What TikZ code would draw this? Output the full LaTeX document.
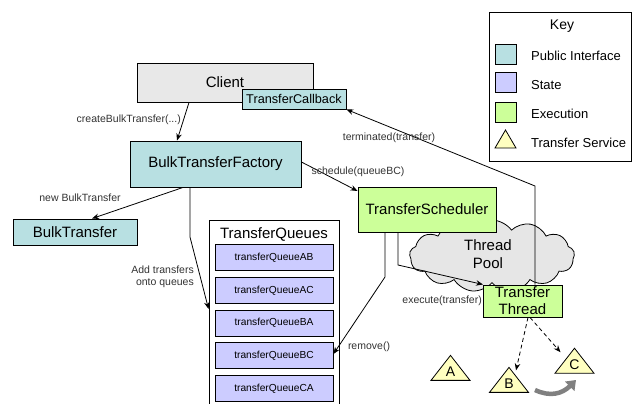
\documentclass[tikz,border=0pt]{standalone}
\usepackage{fontspec}
\setmainfont{Liberation Sans}
\usetikzlibrary{shapes.symbols,shapes.geometric,arrows.meta,calc}
\definecolor{pubc}{RGB}{184,224,226}
\definecolor{statec}{RGB}{204,204,255}
\definecolor{execc}{RGB}{204,255,153}
\definecolor{clientc}{RGB}{232,232,232}
\definecolor{cloudc}{RGB}{230,230,230}
\definecolor{tric}{RGB}{255,255,192}
\definecolor{lblc}{RGB}{50,50,50}
\definecolor{garrc}{RGB}{128,128,128}
\tikzset{
  box/.style={draw=black, line width=0.9pt, inner sep=0pt, align=center},
  bigtxt/.style={font=\fontsize{15}{17}\selectfont},
  smalltxt/.style={font=\fontsize{10.5}{12}\selectfont, text=lblc, inner sep=0pt, align=right},
  keytxt/.style={font=\fontsize{13}{15}\selectfont, anchor=west, inner sep=0pt},
  arr/.style={draw=black, line width=0.8pt, -{Stealth[length=7pt,width=5.5pt]}},
  darr/.style={arr, dashed, dash pattern=on 4pt off 3pt},
  qitem/.style={box, fill=statec, minimum width=118pt, minimum height=26pt, font=\fontsize{10.2}{12}\selectfont},
  tri/.style={draw=black, line width=0.8pt, fill=tric, isosceles triangle, shape border rotate=90,
     isosceles triangle stretches, minimum width=39pt, minimum height=25pt, inner sep=0pt,
     font=\fontsize{14}{16}\selectfont},
}
\begin{document}
\begin{tikzpicture}[x=1pt,y=-1pt]
\useasboundingbox (0,0) rectangle (632,404);
% Key
\node[box, minimum width=142pt, minimum height=149pt] (key) at (560,86.5) {};
\node[font=\fontsize{14}{16}\selectfont, inner sep=0pt] (keyt) at (562,26) {Key};
\node[box, fill=pubc, minimum width=21pt, minimum height=20pt] (k1) at (505.5,54) {};
\node[box, fill=statec, minimum width=21pt, minimum height=20pt] (k2) at (505.5,82) {};
\node[box, fill=execc, minimum width=21pt, minimum height=20pt] (k3) at (505.5,112) {};
\node[tri, minimum width=21pt, minimum height=18pt] (k4) at (505.5,142) {};
\node[keytxt] (kt1) at (531,56) {Public Interface};
\node[keytxt] (kt2) at (531,85) {State};
\node[keytxt] (kt3) at (531,114) {Execution};
\node[keytxt] (kt4) at (531,143) {Transfer Service};
% Cloud
\node[cloud, cloud puffs=13, cloud puff arc=110, aspect=2.3, draw=black, line width=0.8pt, fill=cloudc,
      minimum width=165pt, minimum height=72pt, inner sep=0pt] (pool) at (492,256) {};
\node[bigtxt, align=center, inner sep=0pt] (poolt) at (488,254) {Thread\\[1pt]Pool};
% Main boxes
\node[box, fill=clientc, minimum width=176pt, minimum height=39pt, bigtxt] (client) at (225,82.5) {Client};
\node[box, fill=pubc, minimum width=104pt, minimum height=20pt, font=\fontsize{12.7}{14}\selectfont] (tcb) at (294,99) {TransferCallback};
\node[box, fill=pubc, minimum width=171pt, minimum height=46pt, bigtxt] (bf) at (215.5,164) {BulkTransferFactory};
\node[box, fill=pubc, minimum width=124pt, minimum height=26pt, bigtxt] (bt) at (75,232) {BulkTransfer};
\node[box, fill=execc, minimum width=138pt, minimum height=45pt, bigtxt] (ts) at (427,209.5) {TransferScheduler};
% Queues
\node[box, minimum width=130pt, minimum height=192pt] (tq) at (274,316) {};
\node[bigtxt, inner sep=0pt] (tqt) at (274,234) {TransferQueues};
\node[qitem] (qAB) at (274,257.5) {transferQueueAB};
\node[qitem] (qAC) at (274,290.5) {transferQueueAC};
\node[qitem] (qBA) at (274,323) {transferQueueBA};
\node[qitem] (qBC) at (274,355.5) {transferQueueBC};
\node[qitem] (qCA) at (274,388.5) {transferQueueCA};
% Bend points
\coordinate (b3) at (190,237);
\coordinate (b5) at (535,186);
\coordinate (b6) at (385,277);
\coordinate (b7) at (398,265);
% Connectors
\draw[arr] (client.south -| 189,0) -- (bf.north -| 177,0);
\node[smalltxt, anchor=east] (l1) at (181,120) {createBulkTransfer(...)};
\draw[arr] (bf.south -| 183,0) -- (bt.north -| 92,0);
\node[smalltxt] (l2) at (80,198) {new BulkTransfer};
\draw[arr] (bf.south -| b3) -- (b3) -- (tq.west |- 0,309);
\node[smalltxt, anchor=east] (l3) at (194,277) {Add transfers\\onto queues};
\draw[arr] (bf.east |- 0,162) -- (ts.west |- 0,191);
\node[smalltxt] (l4) at (358,172) {schedule(queueBC)};
\draw[arr] (b6 |- ts.south) -- (b6) -- (qBC.east |- 0,354);
\node[smalltxt] (l6) at (369,347) {remove()};
\draw[arr] (b7 |- ts.south) -- (b7) -- (483,284.5);
\node[smalltxt, anchor=east] (l7) at (482,301) {execute(transfer)};
% Thread
\node[box, fill=execc, minimum width=79pt, minimum height=32pt, bigtxt] (tt) at (522.5,301) {Transfer\\Thread};
\draw[arr] (b5 |- tt.north) -- (b5) -- (tcb.south east);
\node[smalltxt] (l5) at (389,138) {terminated(transfer)};
% Triangles
\node[tri] (A) at (450.5,372) {A};
\node[tri] (B) at (509,384) {B};
\node[tri] (C) at (574.5,365) {C};
\draw[darr] (tt.south -| 528,0) -- ([shift={(7pt,-4pt)}]B.apex);
\draw[darr] (tt.south -| 530,0) -- ([shift={(-14pt,-5pt)}]C.apex);
% Gray arrow
\coordinate (g1) at (535,390);
\coordinate (g2) at (576,380);
\draw[garrc, line width=4.5pt, -{Triangle[length=9pt,width=13pt]}] (g1) .. controls (550,397) and (562,394) .. (g2);
\end{tikzpicture}
\end{document}
